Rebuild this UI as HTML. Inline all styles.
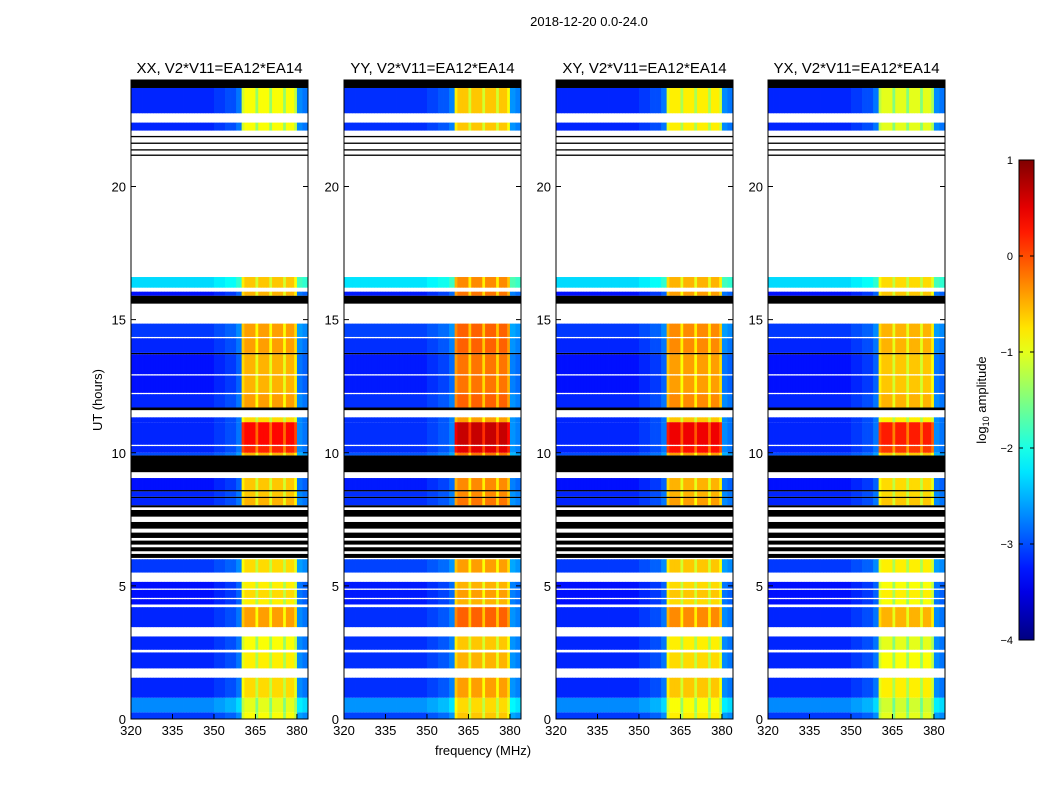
<!DOCTYPE html>
<html><head><meta charset="utf-8"><style>
body{margin:0;background:#fff;width:1050px;height:800px;overflow:hidden;font-family:"Liberation Sans",sans-serif}
svg{display:block}
</style></head><body>
<svg id="chart" width="1050" height="800" xmlns="http://www.w3.org/2000/svg" font-family="Liberation Sans, sans-serif">
<text x="589" y="26" font-size="13" text-anchor="middle">2018-12-20 0.0-24.0</text>
<text x="483" y="755" font-size="13" text-anchor="middle">frequency (MHz)</text>
<text x="102" y="400" font-size="13" text-anchor="middle" transform="rotate(-90 102 400)">UT (hours)</text>
<g id="panels"></g>
<g id="cbar"></g>
</svg>
<script>
const panelNames = ["XX","YY","XY","YX"];
const panelHiOffset = [0, 0.3, 0.1, -0.1];
const panelBgOffset = [-0.3, -0.25, -0.3, -0.3];
const xTicks = [320,335,350,365,380];
const yTicks = [0,5,10,15,20];
const cbTicks = [1,0,-1,-2,-3,-4];
const cbLabels = ["1","0","\u22121","\u22122","\u22123","\u22124"];
// time segments: [startHour, endHour, type, background level, high-band level]
const segments = [
[0,0.25,"d",-2.8,-0.9],[0.25,0.8,"d",-2.4,-1.0],[0.8,1.55,"d",-2.9,-0.7],[1.55,1.9,"w"],
[1.9,2.5,"d",-2.9,-0.8],[2.5,2.6,"w"],[2.6,3.1,"d",-2.9,-0.9],[3.1,3.45,"w"],
[3.45,4.2,"d",-2.9,-0.4],[4.2,4.3,"w"],[4.3,4.5,"d",-3.0,-0.8],[4.5,4.55,"w"],[4.55,4.85,"d",-3.0,-0.7],[4.85,4.9,"w"],[4.9,5.15,"d",-3.0,-0.8],[5.15,5.5,"w"],
[5.5,6.0,"d",-2.8,-0.7],[6.0,6.05,"w"],
[6.05,6.2,"k"],[6.2,6.3,"w"],[6.3,6.45,"k"],[6.45,6.55,"w"],[6.55,6.7,"k"],[6.7,6.8,"w"],[6.8,7.0,"k"],[7.0,7.15,"w"],[7.15,7.4,"k"],[7.4,7.6,"w"],[7.6,7.85,"k"],[7.85,7.95,"w"],[7.95,8.03,"k"],
[8.03,8.3,"d",-2.9,-0.5],[8.3,8.35,"k"],[8.35,8.55,"d",-2.9,-0.6],[8.55,8.6,"k"],[8.6,9.05,"d",-3.0,-0.6],[9.05,9.27,"w"],[9.27,9.9,"k"],
[9.9,10.0,"d",-2.7,-0.5],[10.0,10.25,"d",-2.9,0.2],[10.25,10.3,"w"],[10.3,11.15,"d",-2.9,0.35],[11.15,11.33,"d",-2.9,-0.7],[11.33,11.6,"w"],[11.6,11.7,"k"],
[11.7,12.2,"d",-2.9,-0.4],[12.2,12.25,"w"],[12.25,12.9,"d",-3.0,-0.5],[12.9,12.95,"w"],[12.95,13.7,"d",-3.0,-0.5],[13.7,13.75,"k"],[13.75,14.3,"d",-2.9,-0.4],[14.3,14.35,"w"],[14.35,14.85,"d",-2.8,-0.4],
[14.85,15.6,"w"],[15.6,15.9,"k"],[15.9,16.05,"d",-3.0,-0.5],[16.05,16.2,"w"],[16.2,16.6,"d",-2.0,-0.6],
[16.6,21.15,"w"],[21.15,21.2,"k"],[21.2,21.35,"w"],[21.35,21.4,"k"],[21.4,21.6,"w"],[21.6,21.65,"k"],[21.65,21.85,"w"],[21.85,21.9,"k"],[21.9,22.1,"w"],
[22.1,22.4,"d",-2.9,-0.9],[22.4,22.75,"w"],[22.75,23.7,"d",-2.9,-0.9],[23.7,24,"k"]
];
// per-1MHz channel offsets (320..383) and high-band flags
const chanOffset = [0,0,0,0,0,0,0,0,0,0, 0,0,0,0,0,0,0,0,0,0, 0,0,0,0,0,0,0,0,0,0, 0.1,0.1,0.1,0.1,0.2,0.2,0.2,0.2,0.4,0.4,
 -0.2,0,0,0,0,-0.5,0,0,0,0, -0.5,0,0,0,0,-0.5,0,0,0,-0.3, 0.5,0.5,0.4,0.4];
const isHigh = chanOffset.map((v,i)=> (i>=40 && i<60) ? 1 : 0);

const NS="http://www.w3.org/2000/svg";
function el(t,a,p){const e=document.createElementNS(NS,t);for(const k in a)e.setAttribute(k,a[k]);p.appendChild(e);return e;}
function jet(v){
  let t=(v+4)/5; t=Math.max(0,Math.min(1,t));
  const f=x=>Math.max(0,Math.min(1,x));
  const r=f(Math.min(4*t-1.5,-4*t+4.5)), g=f(Math.min(4*t-0.5,-4*t+3.5)), b=f(Math.min(4*t+0.5,-4*t+2.5));
  return `rgb(${Math.round(r*255)},${Math.round(g*255)},${Math.round(b*255)})`;
}
const panelX=[131,344,556,768], PW=177, Y0=719, Y24=80;
const yScale=h=>Y0-(Y0-Y24)*h/24;
const panels=document.getElementById("panels");
panelNames.forEach((nm,p)=>{
  const x0=panelX[p];
  const xScale=f=>x0+(f-320)*PW/64;
  const g=el("g",{},panels);
  
  
  segments.forEach(s=>{
    const ya=yScale(s[1]), yb=yScale(s[0]);
    if(s[2]==="w") return;
    if(s[2]==="k"){
      const r=el("rect",{x:x0,y:ya,width:PW,height:yb-ya,fill:"#000"},g);
      
      
      return;
    }
    for(let c=0;c<64;c++){
      const v=isHigh[c]? s[4]+panelHiOffset[p]+chanOffset[c] : s[3]+panelBgOffset[p]+chanOffset[c];
      const r=el("rect",{x:xScale(320+c),y:ya,width:PW/64+0.4,height:yb-ya,fill:jet(v)},g);
      
      
    }
  });
  el("rect",{x:x0,y:Y24,width:PW,height:Y0-Y24,fill:"none",stroke:"#000","stroke-width":1},g);
  const t=el("text",{x:x0+PW/2,y:73,"font-size":15,"text-anchor":"middle"},g);
  t.textContent=nm+", V2*V11=EA12*EA14";
  
  
  xTicks.forEach(f=>{
    const x=xScale(f);
    el("line",{x1:x,x2:x,y1:Y0,y2:Y0-5,stroke:"#000"},g);
    el("line",{x1:x,x2:x,y1:Y24,y2:Y24+5,stroke:"#000"},g);
    const l=el("text",{x:x,y:Y0+16,"font-size":13,"text-anchor":"middle"},g);
    l.textContent=f;
    
    
  });
  yTicks.forEach(h=>{
    const y=yScale(h);
    el("line",{x1:x0,x2:x0+5,y1:y,y2:y,stroke:"#000"},g);
    el("line",{x1:x0+PW,x2:x0+PW-5,y1:y,y2:y,stroke:"#000"},g);
    const l=el("text",{x:x0-5,y:y+5,"font-size":13,"text-anchor":"end"},g);
    l.textContent=h;
    
    
  });
});
const cb=document.getElementById("cbar");
const defs=el("defs",{},cb);
const lg=el("linearGradient",{id:"jetg",x1:0,y1:1,x2:0,y2:0},defs);
for(let i=0;i<=20;i++){el("stop",{offset:i/20,"stop-color":jet(-4+5*i/20)},lg);}
const cbY=v=>640-(v+4)*96;
el("rect",{x:1019,y:160,width:15,height:480,fill:"url(#jetg)",stroke:"#000"},cb);
cbTicks.forEach((v,i)=>{
  const y=cbY(v);
  el("line",{x1:1019,x2:1023,y1:y,y2:y,stroke:"#000"},cb);
  el("line",{x1:1034,x2:1030,y1:y,y2:y,stroke:"#000"},cb);
  const l=el("text",{x:1013,y:y+4,"font-size":11,"text-anchor":"end"},cb);
  l.textContent=cbLabels[i];
  
  
});
const cl=el("text",{x:986,y:400,"font-size":13,"text-anchor":"middle",transform:"rotate(-90 986 400)"},cb);
cl.innerHTML='log<tspan font-size="9" dy="3">10</tspan><tspan dy="-3"> amplitude</tspan>';


</script>
</body></html>
